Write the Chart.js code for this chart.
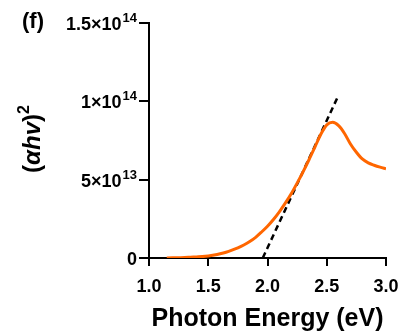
<!DOCTYPE html>
<html>
<head>
<meta charset="utf-8">
<script src="https://cdn.jsdelivr.net/npm/chart.js@4.4.0/dist/chart.umd.min.js"></script>
<style>
html,body{margin:0;padding:0;background:#fff;}
#wrap{width:403px;height:334px;position:relative;}
</style>
</head>
<body>
<div id="wrap"><canvas id="c" width="403" height="334"></canvas></div>
<script>
// Photon energy (eV)
const energy = [1.15, 1.20, 1.25, 1.30, 1.35, 1.40, 1.45, 1.50, 1.55, 1.60, 1.65, 1.70, 1.75, 1.80, 1.85, 1.90, 1.95, 2.00, 2.05, 2.10, 2.15, 2.20, 2.25, 2.30, 2.35, 2.40, 2.45, 2.50, 2.55, 2.60, 2.65, 2.70, 2.75, 2.80, 2.85, 2.90, 2.95, 3.00];
// (alpha h v)^2 in units of 1e13
const absorb13 = [0.00, 0.01, 0.02, 0.03, 0.05, 0.07, 0.09, 0.13, 0.19, 0.27, 0.37, 0.50, 0.65, 0.83, 1.05, 1.32, 1.66, 2.03, 2.46, 2.95, 3.50, 4.10, 4.78, 5.50, 6.27, 7.08, 7.90, 8.50, 8.66, 8.45, 7.95, 7.28, 6.75, 6.32, 6.07, 5.92, 5.80, 5.70];
// Tauc fit line (endpoints)
const fitEnergy = [1.96, 2.60];
const fitAbsorb13 = [0, 10.4];
// Tick labels
const xTicks = [1.0, 1.5, 2.0, 2.5, 3.0];
const yTickValues = [0, 5e13, 1e14, 1.5e14];
const yTickBase = ['0', '5×10', '1×10', '1.5×10'];
const yTickExp = ['', '13', '14', '14'];

const FONT = "'Liberation Sans', Arial, sans-serif";

const curve = energy.map((e, i) => ({x: e, y: absorb13[i] * 1e13}));
const fit = fitEnergy.map((e, i) => ({x: e, y: fitAbsorb13[i] * 1e13}));

const annot = {
  id: 'annot',
  afterDraw(chart) {
    const ctx = chart.ctx;
    const ys = chart.scales.y;
    ctx.save();
    ctx.fillStyle = '#000';
    // y tick labels with superscripts
    const rightEdge = 137;
    yTickValues.forEach((v, i) => {
      const py = ys.getPixelForValue(v);
      ctx.textBaseline = 'alphabetic';
      ctx.font = 'bold 13px ' + FONT;
      const ew = yTickExp[i] ? ctx.measureText(yTickExp[i]).width : 0;
      if (yTickExp[i]) {
        ctx.textAlign = 'right';
        ctx.fillText(yTickExp[i], rightEdge, py - 1);
      }
      ctx.font = 'bold 18px ' + FONT;
      ctx.textAlign = 'right';
      ctx.fillText(yTickBase[i], rightEdge - ew - (ew ? 1 : 0), py + 7);
    });
    // (f) label
    ctx.font = 'bold 22px ' + FONT;
    ctx.textAlign = 'left';
    ctx.fillText('(f)', 22, 28);
    // y axis title rotated
    ctx.translate(40, 139);
    ctx.rotate(-Math.PI / 2);
    const parts = [
      {t: '(', f: 'bold 24px ' + FONT, dy: 0},
      {t: 'αhv', f: 'italic bold 24px ' + FONT, dy: 0},
      {t: ')', f: 'bold 24px ' + FONT, dy: 0},
      {t: '2', f: 'bold 16px ' + FONT, dy: -11}
    ];
    let total = 0;
    parts.forEach(p => { ctx.font = p.f; p.w = ctx.measureText(p.t).width; total += p.w; });
    let x = -total / 2;
    ctx.textAlign = 'left';
    parts.forEach(p => { ctx.font = p.f; ctx.fillText(p.t, x, p.dy); x += p.w; });
    ctx.restore();
  }
};

new Chart(document.getElementById('c'), {
  type: 'scatter',
  data: {
    datasets: [
      {
        data: curve,
        showLine: true,
        borderColor: '#FF6600',
        borderWidth: 3,
        pointRadius: 0,
        cubicInterpolationMode: 'monotone',
        fill: false
      },
      {
        data: fit,
        showLine: true,
        borderColor: '#000',
        borderWidth: 2.5,
        borderDash: [6, 4],
        pointRadius: 0,
        fill: false
      }
    ]
  },
  options: {
    responsive: false,
    animation: false,
    devicePixelRatio: 1,
    layout: {padding: {top: 23, right: 17, left: 0, bottom: 0}},
    plugins: {legend: {display: false}, tooltip: {enabled: false}},
    scales: {
      x: {
        type: 'linear',
        min: 1.0, max: 3.0,
        afterBuildTicks(s) { s.ticks = xTicks.map(v => ({value: v})); },
        afterFit(s) { s.height = 76; s.paddingLeft = 0; s.paddingRight = 0; },
        border: {color: '#000', width: 2},
        grid: {drawOnChartArea: false, drawTicks: true, tickLength: 8, color: '#000', lineWidth: 2},
        ticks: {
          color: '#000',
          font: {family: FONT, weight: 'bold', size: 18},
          padding: 10,
          maxRotation: 0,
          callback: v => Number(v).toFixed(1)
        },
        title: {
          display: true,
          text: 'Photon Energy (eV)',
          color: '#000',
          font: {family: FONT, weight: 'bold', size: 25},
          padding: {top: 2, bottom: 0}
        }
      },
      y: {
        type: 'linear',
        min: 0, max: 1.5e14,
        afterBuildTicks(s) { s.ticks = yTickValues.map(v => ({value: v})); },
        afterFit(s) { s.width = 149; s.paddingTop = 0; s.paddingBottom = 0; },
        border: {color: '#000', width: 2},
        grid: {drawOnChartArea: false, drawTicks: true, tickLength: 10, color: '#000', lineWidth: 2},
        ticks: {display: true, color: 'rgba(0,0,0,0)', callback: () => ''}
      }
    }
  },
  plugins: [annot]
});
</script>
</body>
</html>
